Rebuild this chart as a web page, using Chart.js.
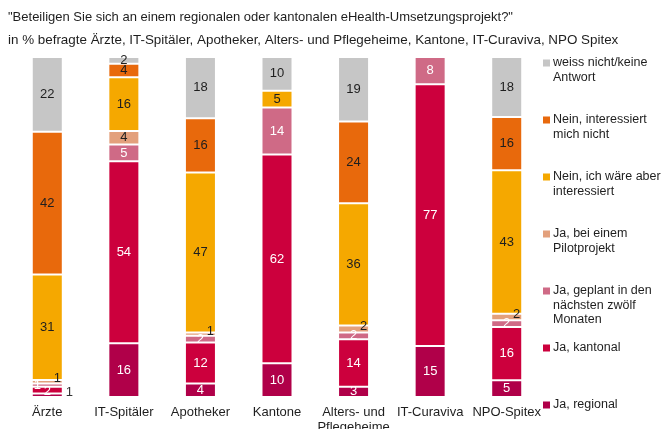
<!DOCTYPE html>
<html>
<head>
<meta charset="utf-8">
<script src="https://cdn.jsdelivr.net/npm/chart.js@4"></script>
<style>
  html,body{margin:0;padding:0;background:#fff;}
  #wrap{position:relative;width:662px;height:429px;overflow:hidden;}
  canvas{display:block;}
</style>
</head>
<body>
<div id="wrap"><canvas id="c" width="662" height="429"></canvas></div>
<script>
const questionText = '"Beteiligen Sie sich an einem regionalen oder kantonalen eHealth-Umsetzungsprojekt?"';
const subtitleText = 'in % befragte Ärzte, IT-Spitäler, Apotheker, Alters- und Pflegeheime, Kantone, IT-Curaviva, NPO Spitex';

const categories = ['Ärzte', 'IT-Spitäler', 'Apotheker', 'Kantone', ['Alters- und', 'Pflegeheime'], 'IT-Curaviva', 'NPO-Spitex'];

const jaRegional       = [1, 16, 4, 10, 3, 15, 5];
const jaKantonal       = [2, 54, 12, 62, 14, 77, 16];
const jaGeplant        = [1, 5, 2, 14, 2, 8, 2];
const jaPilot          = [1, 4, 1, 0, 2, 0, 2];
const neinInteressiert = [31, 16, 47, 5, 36, 0, 43];
const neinNicht        = [42, 4, 16, 0, 24, 0, 16];
const weissNicht       = [22, 2, 18, 10, 19, 0, 18];

const seriesNames = ['Ja, regional', 'Ja, kantonal', 'Ja, geplant in den nächsten zwölf Monaten', 'Ja, bei einem Pilotprojekt', 'Nein, ich wäre aber interessiert', 'Nein, interessiert mich nicht', 'weiss nicht/keine Antwort'];
const seriesColors = ['#B00049', '#CC003D', '#CF6A86', '#E3A07C', '#F5A800', '#E8690C', '#C6C6C6'];
const rawSeries = [jaRegional, jaKantonal, jaGeplant, jaPilot, neinInteressiert, neinNicht, weissNicht];

const totals = categories.map((_, j) => rawSeries.reduce((s, arr) => s + arr[j], 0));

const FONT = "'Liberation Sans', Arial, Helvetica, sans-serif";
const TEXT = '#1e1e1e';

const datasets = rawSeries.map((arr, i) => ({
  label: seriesNames[i],
  data: arr.map((v, j) => v / totals[j] * 100),
  backgroundColor: seriesColors[i],
  borderColor: 'rgba(255,255,255,0.3)',
  borderWidth: 1,
  borderSkipped: false
}));

const headerPlugin = {
  id: 'header',
  beforeDraw(chart) {
    const ctx = chart.ctx;
    ctx.save();
    ctx.fillStyle = TEXT;
    ctx.textBaseline = 'middle';
    ctx.textAlign = 'left';
    ctx.font = '13px ' + FONT;
    ctx.fillText(questionText, 8, 17);
    ctx.font = '13.4px ' + FONT;
    ctx.fillText(subtitleText, 8, 40);
    ctx.restore();
  }
};

const valueLabels = {
  id: 'valueLabels',
  afterDatasetsDraw(chart) {
    const ctx = chart.ctx;
    ctx.save();
    ctx.font = '13px ' + FONT;
    ctx.textBaseline = 'middle';
    rawSeries.forEach((arr, i) => {
      const meta = chart.getDatasetMeta(i);
      meta.data.forEach((el, j) => {
        const v = arr[j];
        if (!v) return;
        const cy = (el.y + el.base) / 2;
        let x = el.x, y = cy, align = 'center';
        let color = i <= 2 ? '#ffffff' : TEXT;
        if (v < 3) {
          if (i === 0) { x = el.x + el.width / 2 + 3; align = 'left'; y = cy - 3; color = '#333'; }
          else if (i === 1) { y = cy + 1; }
          else if (i === 2) { if (v === 1) x = el.x - 10; }
          else if (i === 3) { x = el.x + 10; y = cy - 3; color = TEXT; }
        }
        ctx.fillStyle = color;
        ctx.textAlign = align;
        ctx.fillText(String(v), x, y);
      });
    });
    ctx.restore();
  }
};

const legendPlugin = {
  id: 'sideLegend',
  afterDraw(chart) {
    const ctx = chart.ctx;
    ctx.save();
    ctx.font = '12.5px ' + FONT;
    ctx.textBaseline = 'middle';
    ctx.textAlign = 'left';
    const n = seriesNames.length;
    for (let k = 0; k < n; k++) {
      const i = n - 1 - k;
      const y0 = 63 + 57 * k;
      ctx.fillStyle = seriesColors[i];
      ctx.fillRect(543, y0 - 3.5, 7, 7);
      const words = seriesNames[i].split(' ');
      const lines = [];
      let cur = '';
      words.forEach(w => {
        const t = cur ? cur + ' ' + w : w;
        if (ctx.measureText(t).width > 112 && cur) { lines.push(cur); cur = w; }
        else cur = t;
      });
      if (cur) lines.push(cur);
      ctx.fillStyle = TEXT;
      lines.forEach((ln, li) => ctx.fillText(ln, 553, y0 + li * 14.5, 109));
    }
    ctx.restore();
  }
};

new Chart(document.getElementById('c'), {
  type: 'bar',
  data: { labels: categories, datasets },
  options: {
    responsive: false,
    animation: false,
    layout: { padding: { top: 57, left: 9, right: 117, bottom: 0 } },
    plugins: { legend: { display: false }, tooltip: { enabled: false }, title: { display: false } },
    datasets: { bar: { categoryPercentage: 1, barPercentage: 0.405 } },
    scales: {
      x: {
        stacked: true,
        grid: { display: false },
        border: { display: false },
        ticks: { color: TEXT, font: { family: FONT, size: 13, lineHeight: 1.15 }, padding: 0, maxRotation: 0, autoSkip: false },
        afterFit(scale) { scale.height = 32; }
      },
      y: {
        stacked: true,
        display: false,
        min: 0,
        max: 100
      }
    }
  },
  plugins: [headerPlugin, valueLabels, legendPlugin]
});
</script>
</body>
</html>
